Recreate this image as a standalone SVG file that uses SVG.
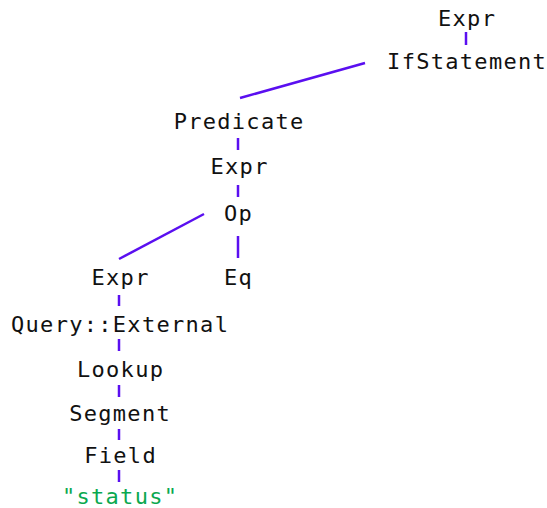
<svg xmlns="http://www.w3.org/2000/svg" width="547" height="508" viewBox="0 0 547 508">
<style>
text{font-family:"DejaVu Sans Mono","Liberation Mono",monospace;font-size:22px;letter-spacing:1.3px;text-anchor:middle;fill:#111}
.str{fill:#0aa84f}
#edges line{stroke:#5a0ff0;stroke-width:2.5;stroke-linecap:butt}
</style>
<rect width="547" height="508" fill="#fff"/>
<g id="edges">
<line x1="466" y1="32" x2="466" y2="45"/>
<line x1="365" y1="63" x2="240" y2="98"/>
<line x1="238" y1="138" x2="238" y2="150"/>
<line x1="238" y1="185" x2="238" y2="197"/>
<line x1="204" y1="214" x2="119" y2="259"/>
<line x1="238" y1="236" x2="238" y2="258"/>
<line x1="119" y1="295" x2="119" y2="306"/>
<line x1="119" y1="339" x2="119" y2="351"/>
<line x1="119" y1="385" x2="119" y2="397"/>
<line x1="119" y1="429" x2="119" y2="440"/>
<line x1="119" y1="470" x2="119" y2="482"/>
</g>
<g id="n_expr0"><text x="467.1" y="26">Expr</text></g>
<g id="n_if"><text x="467.1" y="69">IfStatement</text></g>
<g id="n_pred"><text x="239.1" y="129">Predicate</text></g>
<g id="n_expr1"><text x="239.6" y="174">Expr</text></g>
<g id="n_op"><text x="238.6" y="221">Op</text></g>
<g id="n_eq"><text x="238.6" y="285">Eq</text></g>
<g id="n_expr2"><text x="120.6" y="285">Expr</text></g>
<g id="n_query"><text x="120.1" y="332">Query::External</text></g>
<g id="n_lookup"><text x="120.6" y="377">Lookup</text></g>
<g id="n_segment"><text x="120.1" y="421">Segment</text></g>
<g id="n_field"><text x="120.6" y="463">Field</text></g>
<g id="n_status"><text class="str" x="120.1" y="504">"status"</text></g>
</svg>
